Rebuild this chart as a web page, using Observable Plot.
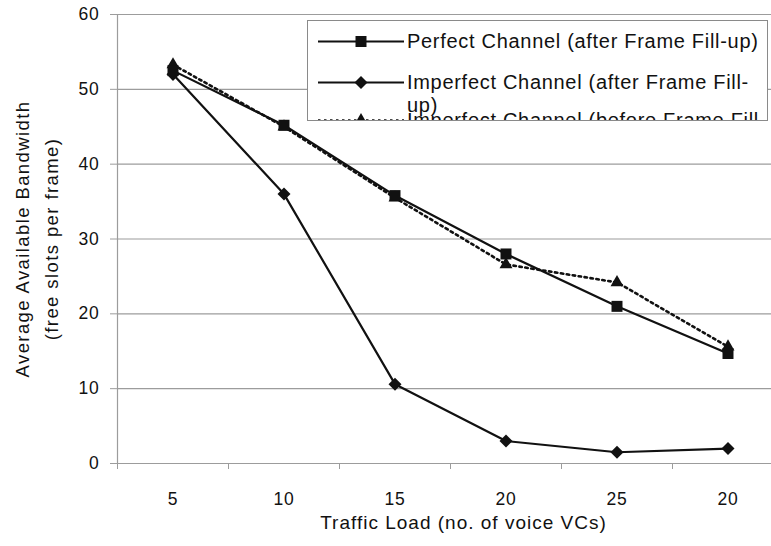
<!DOCTYPE html>
<html>
<head>
<meta charset="utf-8">
<script src="https://cdn.jsdelivr.net/npm/d3@7"></script>
<script src="https://cdn.jsdelivr.net/npm/@observablehq/plot@0.6"></script>
<style>
  body { margin: 0; background: #fff; }
  #wrap { position: relative; width: 771px; height: 546px; overflow: hidden; font-family: "Liberation Sans", Arial, sans-serif; }
  #legend { position: absolute; left: 307px; top: 20px; width: 461px; height: 101px; border: 1px solid #8a8a8a; background: #fff; overflow: hidden; box-sizing: border-box; }
  .row { position: absolute; left: 0; width: 100%; }
  .row svg { position: absolute; left: 10px; }
  .row .lbl { position: absolute; left: 99px; font-size: 20px; line-height: 23px; letter-spacing: 0.7px; white-space: nowrap; color: #111; }
</style>
</head>
<body>
<div id="wrap"></div>
<script>
// ---- data ----
const categories = ["5", "10", "15", "20", "25", "20"];
const perfectAfter = [52.5, 45.2, 35.8, 28, 21, 14.7];
const imperfectAfter = [52, 36, 10.6, 3, 1.5, 2];
const imperfectBefore = [53.3, 45, 35.5, 26.6, 24.2, 15.6];
const seriesNames = [
  "Perfect Channel (after Frame Fill-up)",
  "Imperfect Channel (after Frame Fill-up)",
  "Imperfect Channel (before Frame Fill-up)"
];
const yTicks = [0, 10, 20, 30, 40, 50, 60];
const xTitle = "Traffic Load (no. of voice VCs)";
const yTitle = "Average Available Bandwidth\n(free slots per frame)";

// ---- helpers ----
const toRows = (vals, name) => vals.map((v, i) => ({i, v, name}));
const rowsP = toRows(perfectAfter, seriesNames[0]);
const rowsIA = toRows(imperfectAfter, seriesNames[1]);
const rowsIB = toRows(imperfectBefore, seriesNames[2]);
const idx = d3.range(categories.length);
const boundaries = d3.range(categories.length + 1).map(i => i - 0.5);

// equal-sided diamond (square rotated 45deg)
const rhombus = {
  draw(ctx, size) {
    const h = Math.sqrt(size / 2);
    ctx.moveTo(0, -h); ctx.lineTo(h, 0); ctx.lineTo(0, h); ctx.lineTo(-h, 0); ctx.closePath();
  }
};

const ink = "#111";
const gridColor = "#9c9c9c";

const chart = Plot.plot({
  width: 771,
  height: 546,
  marginLeft: 117,
  marginRight: 0,
  marginTop: 14,
  marginBottom: 83,
  style: { fontFamily: "Liberation Sans, Arial, sans-serif", fontSize: "17px", color: "#111", background: "white" },
  x: { type: "linear", domain: [-0.5, categories.length - 0.5], range: [117, 783] },
  y: { domain: [0, 60] },
  marks: [
    Plot.ruleY(yTicks, { stroke: gridColor, strokeWidth: 1.2 }),
    Plot.ruleX([-0.5], { y1: 0, y2: 60, stroke: gridColor, strokeWidth: 1.2 }),
    Plot.axisY({ ticks: yTicks, tickSize: 7, tickPadding: 11, label: null, stroke: gridColor, fontSize: 17.5 }),
    Plot.axisX({ ticks: boundaries, tickSize: 6, tickFormat: () => "", label: null, stroke: gridColor }),
    Plot.axisX({ ticks: idx, tickSize: 0, tickPadding: 29, tickFormat: i => categories[i], label: null, fontSize: 17.5 }),
    Plot.text([xTitle], { frameAnchor: "bottom", dy: 65, dx: 19, fontSize: 19, fill: ink }),
    Plot.text([yTitle], { frameAnchor: "left", textAnchor: "middle", rotate: -90, dx: -83, lineHeight: 1.55, fontSize: 18.5, fill: ink }),
    // Imperfect before (dotted, triangles)
    Plot.line(rowsIB, { x: "i", y: "v", stroke: ink, strokeWidth: 2.6, strokeDasharray: "2.5,3.5" }),
    Plot.dot(rowsIB, { x: "i", y: "v", symbol: "triangle", r: 4.8, fill: ink, stroke: "none" }),
    // Imperfect after (diamonds)
    Plot.line(rowsIA, { x: "i", y: "v", stroke: ink, strokeWidth: 2.2 }),
    Plot.dot(rowsIA, { x: "i", y: "v", symbol: rhombus, r: 5.2, fill: ink, stroke: "none" }),
    // Perfect after (squares)
    Plot.line(rowsP, { x: "i", y: "v", stroke: ink, strokeWidth: 2.2 }),
    Plot.dot(rowsP, { x: "i", y: "v", symbol: "square", r: 6.2, fill: ink, stroke: "none" })
  ]
});

const wrap = document.getElementById("wrap");
wrap.appendChild(chart);
// the reference's lettering is slightly stretched horizontally: widen with letter spacing
const sel = d3.select(chart).selectAll("text");
sel.filter(function() { return this.textContent.startsWith("Average"); }).style("letter-spacing", "1.4px");
sel.filter(function() { return this.textContent === xTitle; }).style("letter-spacing", "1px");
sel.filter(function() { return /^\d+$/.test(this.textContent); }).style("letter-spacing", "0.8px");

// ---- legend (HTML) ----
const legend = document.createElement("div");
legend.id = "legend";
wrap.appendChild(legend);

const legendDefs = [
  { text: seriesNames[0], sym: d3.symbolSquare, size: Math.PI * 6.2 * 6.2, dash: null, top: 9 },
  { text: "Imperfect Channel (after Frame Fill-<br>up)", sym: rhombus, size: Math.PI * 5.2 * 5.2, dash: null, top: 50 },
  { text: "Imperfect Channel (before Frame Fill-<br>up)", sym: d3.symbolTriangle, size: Math.PI * 4.8 * 4.8, dash: "2.5,3.5", top: 88 }
];
legendDefs.forEach(d => {
  const row = document.createElement("div");
  row.className = "row";
  row.style.top = d.top + "px";
  const svg = d3.create("svg").attr("width", 86).attr("height", 23);
  svg.append("line").attr("x1", 0).attr("x2", 86).attr("y1", 11.5).attr("y2", 11.5)
    .attr("stroke", ink).attr("stroke-width", d.dash ? 2.6 : 2.2).attr("stroke-dasharray", d.dash);
  svg.append("path").attr("transform", "translate(43,11.5)").attr("d", d3.symbol(d.sym, d.size)()).attr("fill", ink);
  row.appendChild(svg.node());
  const lbl = document.createElement("div");
  lbl.className = "lbl";
  lbl.innerHTML = d.text;
  row.appendChild(lbl);
  legend.appendChild(row);
});
</script>
</body>
</html>
